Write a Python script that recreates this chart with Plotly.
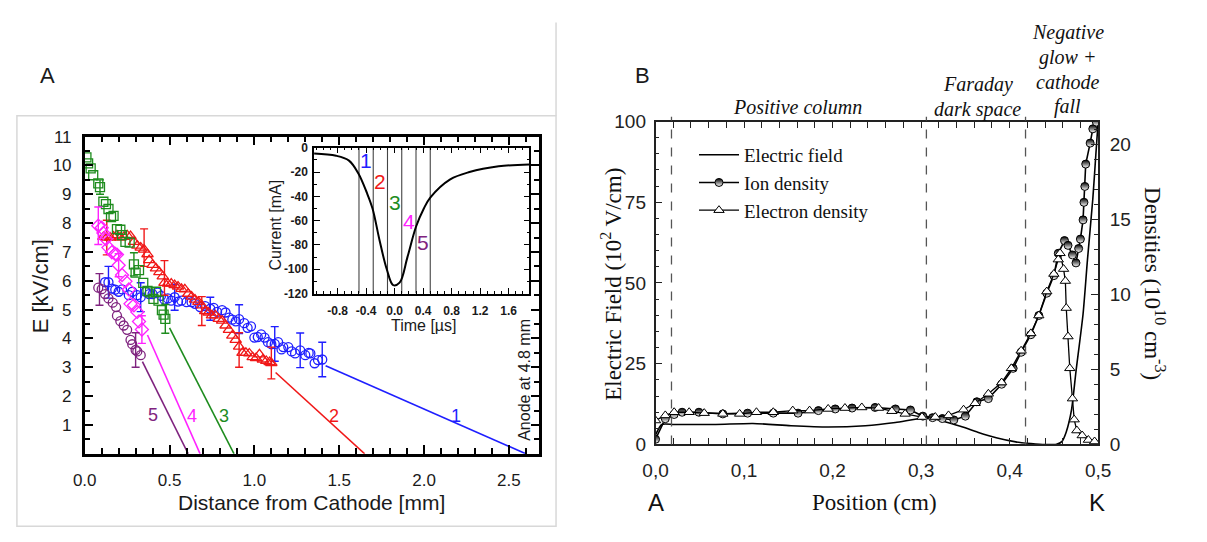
import plotly.graph_objects as go

W, H = 1207, 542
def px(x):
    return x / W
def py(y):
    return 1 - y / H

# ---------------- Panel A : E-field profiles ----------------
blue_x = [0.12, 0.14, 0.16, 0.18, 0.20, 0.22, 0.26, 0.28, 0.31, 0.33, 0.36, 0.38, 0.40, 0.43, 0.45,
          0.47, 0.49, 0.51, 0.53, 0.55, 0.57, 0.60, 0.63, 0.65, 0.68, 0.71, 0.74, 0.76, 0.78, 0.81,
          0.83, 0.85, 0.87, 0.89, 0.91, 0.94, 0.96, 0.98, 1.00, 1.02, 1.04, 1.06, 1.08, 1.10, 1.12,
          1.14, 1.16, 1.17, 1.20, 1.22, 1.24, 1.27, 1.30, 1.32, 1.33, 1.355, 1.375, 1.40]
blue_y = [5.95, 5.95, 5.73, 5.69, 5.62, 5.70, 5.50, 5.62, 5.50, 5.43, 5.62, 5.54, 5.54, 5.59, 5.48,
          5.35, 5.39, 5.31, 5.43, 5.28, 5.31, 5.26, 5.26, 5.20, 5.09, 5.12, 5.03, 5.06, 4.92, 4.98,
          4.90, 4.72, 4.65, 4.59, 4.67, 4.53, 4.37, 4.42, 4.03, 4.05, 4.14, 4.03, 3.87, 3.80, 3.81,
          3.87, 3.62, 3.70, 3.70, 3.55, 3.48, 3.59, 3.42, 3.50, 3.48, 3.14, 3.25, 3.27]
blue_err_x = [0.14, 0.33, 0.53, 0.74, 0.91, 1.12, 1.27, 1.40]
blue_err_y = [5.95, 5.43, 5.43, 5.03, 4.67, 3.81, 3.59, 3.27]
blue_err = [0.55, 0.5, 0.45, 0.4, 0.5, 0.6, 0.6, 0.6]

red_x = [0.11, 0.13, 0.15, 0.17, 0.19, 0.21, 0.23, 0.25, 0.27, 0.29, 0.31, 0.33, 0.35, 0.37, 0.38,
         0.40, 0.42, 0.44, 0.46, 0.47, 0.49, 0.51, 0.53, 0.55, 0.57, 0.59, 0.61, 0.63, 0.65, 0.67,
         0.69, 0.71, 0.73, 0.75, 0.77, 0.79, 0.81, 0.83, 0.85, 0.87, 0.89, 0.91, 0.93, 0.95, 0.97,
         0.99, 1.01, 1.03, 1.05, 1.07, 1.09, 1.10]
red_y = [7.52, 7.50, 7.50, 7.53, 7.58, 7.50, 7.52, 7.58, 7.55, 7.35, 7.22, 7.15, 7.08, 6.92, 6.72,
         6.55, 6.43, 6.30, 6.15, 5.93, 5.90, 5.90, 5.85, 5.80, 5.72, 5.70, 5.55, 5.45, 5.35, 5.27,
         5.15, 4.95, 4.90, 4.80, 4.80, 4.68, 4.62, 4.45, 4.30, 4.10, 3.95, 3.72, 3.50, 3.50, 3.48,
         3.35, 3.32, 3.45, 3.27, 3.22, 3.18, 3.15]
red_err_x = [0.13, 0.35, 0.47, 0.69, 0.91, 1.10]
red_err_y = [7.50, 7.15, 6.10, 4.95, 3.60, 3.15]
red_err = [0.6, 0.65, 0.6, 0.5, 0.6, 0.55]

green_x = [0.01, 0.02, 0.035, 0.05, 0.08, 0.09, 0.11, 0.125, 0.14, 0.155, 0.17, 0.19, 0.21, 0.22,
           0.24, 0.265, 0.29, 0.30, 0.32, 0.345, 0.37, 0.385, 0.405, 0.42, 0.435, 0.455, 0.465, 0.475]
green_y = [10.28, 10.07, 9.90, 9.66, 9.38, 9.25, 8.74, 8.66, 8.49, 8.21, 8.25, 7.79, 7.77, 7.58,
           7.35, 7.32, 6.57, 6.28, 6.37, 5.93, 5.65, 5.60, 5.37, 5.62, 5.31, 4.98, 4.83, 4.68]
green_err_x = [0.09, 0.29, 0.475]
green_err_y = [9.25, 6.57, 4.68]
green_err = [0.25, 0.4, 0.5]

mag_x = [0.08, 0.10, 0.11, 0.125, 0.14, 0.16, 0.18, 0.19, 0.20, 0.22, 0.24, 0.26, 0.27, 0.29,
         0.31, 0.32, 0.337]
mag_y = [7.91, 7.84, 7.66, 7.45, 7.15, 6.99, 6.93, 6.91, 6.54, 6.20, 5.98, 5.70, 5.20, 5.15,
         4.92, 4.59, 4.31]
mag_err_x = [0.08, 0.20, 0.337]
mag_err_y = [7.91, 6.54, 4.31]
mag_err = [0.65, 0.4, 0.48]

pur_x = [0.08, 0.10, 0.12, 0.14, 0.165, 0.185, 0.19, 0.21, 0.23, 0.25, 0.27, 0.28, 0.30, 0.31, 0.33]
pur_y = [5.76, 5.71, 5.54, 5.39, 5.24, 5.09, 4.79, 4.60, 4.45, 4.30, 3.95, 3.80, 3.60, 3.55, 3.42]
pur_err_x = [0.087, 0.30]
pur_err_y = [5.70, 3.60]
pur_err = [0.55, 0.6]

# linear extrapolations to zero field
fit1_x, fit1_y = [1.42, 2.60], [3.05, 0.0]
fit2_x, fit2_y = [1.125, 1.65], [2.82, 0.0]
fit3_x, fit3_y = [0.50, 0.88], [4.37, 0.0]
fit4_x, fit4_y = [0.37, 0.68], [4.12, 0.0]
fit5_x, fit5_y = [0.34, 0.61], [3.20, 0.0]

# inset current pulse
cur_t = [-1.13, -0.82, -0.64, -0.51, -0.39, -0.31, -0.21, -0.11, -0.02, 0.07, 0.18, 0.30, 0.41,
         0.50, 0.78, 1.05, 1.46, 1.89]
cur_i = [-4.7, -6.6, -10.6, -21, -37, -50, -76.5, -100, -113, -111, -90, -65, -50, -41, -26,
         -20, -15.3, -13.7]
sample_t = [-0.5, -0.3, -0.1, 0.1, 0.3, 0.5]

# ---------------- Panel B : glow discharge ----------------
ef_x = [0.0, 0.007, 0.021, 0.068, 0.11, 0.153, 0.195, 0.237, 0.271, 0.301, 0.314, 0.33, 0.347,
        0.364, 0.386, 0.407, 0.424, 0.44, 0.453, 0.459, 0.464, 0.47, 0.475, 0.483, 0.488,
        0.494, 0.4975, 0.5]
ef_y = [3.0, 6.2, 6.2, 6.2, 6.5, 5.8, 5.4, 5.8, 6.8, 8.1, 8.0, 6.8, 5.4, 3.8, 2.0, 0.8, 0.3, 0.0,
        0.1, 0.9, 3.9, 10.8, 22.6, 40.4, 57.3, 76.0, 90.0, 99.8]

ion_x = [0.0, 0.011, 0.021, 0.03, 0.049, 0.076, 0.104, 0.133, 0.161, 0.184, 0.203, 0.222, 0.248,
         0.271, 0.288, 0.302, 0.313, 0.324, 0.337, 0.35, 0.363, 0.376, 0.391, 0.404, 0.413,
         0.424, 0.433, 0.442, 0.45, 0.455, 0.462, 0.466, 0.471, 0.475, 0.478, 0.48, 0.483,
         0.484, 0.485, 0.486, 0.491, 0.494, 0.498]
ion_y = [0.35, 1.72, 2.0, 2.15, 2.15, 2.04, 2.09, 2.09, 2.09, 2.26, 2.37, 2.43, 2.47, 2.37, 2.3,
         1.89, 1.79, 1.73, 1.64, 1.89, 2.85, 3.06, 4.02, 5.08, 6.15, 7.32, 8.6, 10.09, 11.26,
         12.75, 13.6, 13.28, 12.64, 12.11, 13.07, 13.7, 14.98, 16.15, 17.21, 18.7, 20.1, 21.05, 21.5]

ele_x = [0.0, 0.011, 0.021, 0.038, 0.055, 0.076, 0.095, 0.114, 0.133, 0.155, 0.174, 0.195, 0.214,
         0.233, 0.252, 0.267, 0.282, 0.301, 0.316, 0.331, 0.348, 0.361, 0.376, 0.391, 0.402,
         0.413, 0.424, 0.433, 0.442, 0.45, 0.455, 0.457, 0.461, 0.463, 0.464, 0.466, 0.468,
         0.471, 0.473, 0.476, 0.482, 0.489, 0.496]
ele_y = [1.6, 1.94, 2.15, 2.15, 2.09, 2.04, 2.04, 2.15, 2.15, 2.26, 2.26, 2.37, 2.43, 2.47, 2.43,
         2.22, 2.04, 1.83, 1.83, 1.94, 2.32, 2.75, 3.38, 4.13, 5.08, 6.25, 7.41, 8.6, 10.2,
         11.37, 12.33, 12.75, 11.7, 10.9, 9.1, 7.2, 5.08, 3.06, 1.66, 0.93, 0.6, 0.3, 0.2]

region_bounds = [0.018, 0.306, 0.418]

SANS = "Liberation Sans, Arial, Helvetica, sans-serif"
SERIF = "Liberation Serif, Times New Roman, serif"

fig = go.Figure()

# ---- panel A traces ----
series = [
    ("blue", "#1f1fff", blue_x, blue_y, blue_err_x, blue_err_y, blue_err, "circle-open", 9),
    ("red", "#f01818", red_x, red_y, red_err_x, red_err_y, red_err, "triangle-up-open", 10),
    ("green", "#1e8c1e", green_x, green_y, green_err_x, green_err_y, green_err, "square-open", 9),
    ("magenta", "#ff22ff", mag_x, mag_y, mag_err_x, mag_err_y, mag_err, "diamond-open", 10),
    ("purple", "#7f237f", pur_x, pur_y, pur_err_x, pur_err_y, pur_err, "circle-open", 9),
]
for name, col, xs, ys, ex, ey, ee, sym, sz in series:
    fig.add_trace(go.Scatter(x=ex, y=ey, mode="markers", xaxis="x", yaxis="y",
                             marker=dict(size=1, color="rgba(0,0,0,0)"),
                             error_y=dict(type="data", array=ee, color=col, thickness=1.4, width=4),
                             showlegend=False, hoverinfo="skip"))
    fig.add_trace(go.Scatter(x=xs, y=ys, mode="markers", xaxis="x", yaxis="y",
                             marker=dict(symbol=sym, size=sz, color=col, line=dict(width=1.3, color=col)),
                             showlegend=False, name=name))

fits = [(fit1_x, fit1_y, "#1f1fff"), (fit2_x, fit2_y, "#f01818"), (fit3_x, fit3_y, "#1e8c1e"),
        (fit4_x, fit4_y, "#ff22ff"), (fit5_x, fit5_y, "#7f237f")]
for fx, fy, col in fits:
    fig.add_trace(go.Scatter(x=fx, y=fy, mode="lines", xaxis="x", yaxis="y",
                             line=dict(color=col, width=1.6), showlegend=False))

# ---- inset traces ----
for t in sample_t:
    fig.add_trace(go.Scatter(x=[t, t], y=[-120, 0], mode="lines", xaxis="x2", yaxis="y2",
                             line=dict(color="#444", width=1.1), showlegend=False))
fig.add_trace(go.Scatter(x=cur_t, y=cur_i, mode="lines", xaxis="x2", yaxis="y2",
                         line=dict(color="black", width=2, shape="spline", smoothing=1.0),
                         showlegend=False))

# ---- panel B traces ----
fig.add_trace(go.Scatter(x=ef_x, y=ef_y, mode="lines", xaxis="x3", yaxis="y3",
                         line=dict(color="black", width=1.6, shape="spline", smoothing=0.6),
                         name="Electric field"))
fig.add_trace(go.Scatter(x=ion_x, y=ion_y, mode="lines+markers", xaxis="x3", yaxis="y4",
                         line=dict(color="black", width=1.6),
                         marker=dict(symbol="circle", size=8, color="black",
                                     gradient=dict(type="vertical", color="white"),
                                     line=dict(color="black", width=1)),
                         name="Ion density"))
fig.add_trace(go.Scatter(x=ele_x, y=ele_y, mode="lines+markers", xaxis="x3", yaxis="y4",
                         line=dict(color="black", width=1.3),
                         marker=dict(symbol="triangle-up", size=9, color="white",
                                     line=dict(color="black", width=1)),
                         name="Electron density"))

# ---- axes ----
tickA = dict(family=SANS, size=17, color="#1a1a1a")
common_A = dict(showline=True, linecolor="black", linewidth=2.5, mirror="allticks", ticks="inside",
                tickcolor="black", tickwidth=1.6, ticklen=9, showgrid=False, zeroline=False,
                tickfont=tickA)
fig.update_layout(
    xaxis=dict(domain=[px(73.3), px(538)], range=[0, 2.68], anchor="y", ticklabelstandoff=9,
               tickvals=[0, 0.5, 1.0, 1.5, 2.0, 2.5],
               ticktext=["0.0", "0.5", "1.0", "1.5", "2.0", "2.5"],
               minor=dict(dtick=0.1, tick0=0, ticks="inside", ticklen=6, tickwidth=1.6,
                          tickcolor="black"), **common_A),
    yaxis=dict(domain=[py(461.7), py(131.7)], range=[0, 11], anchor="x", ticklabelstandoff=7,
               tickvals=list(range(1, 12)), ticktext=[str(v) for v in range(1, 12)],
               minor=dict(dtick=0.5, tick0=0, ticks="inside", ticklen=6, tickwidth=1.6,
                          tickcolor="black"), **common_A),
)

tickIn = dict(family=SANS, size=12, color="#1a1a1a", weight="bold")
common_in = dict(showline=True, linecolor="black", linewidth=1.5, mirror="allticks", ticks="inside",
                 tickcolor="black", tickwidth=1.2, ticklen=6, showgrid=False, zeroline=False,
                 tickfont=tickIn)
fig.update_layout(
    xaxis2=dict(domain=[px(307.7), px(527.7)], range=[-1.13, 1.89], anchor="y2", ticklabelstandoff=5,
                tickvals=[-0.8, -0.4, 0.0, 0.4, 0.8, 1.2, 1.6],
                ticktext=["-0.8", "-0.4", "0.0", "0.4", "0.8", "1.2", "1.6"],
                minor=dict(dtick=0.1, tick0=0, ticks="inside", ticklen=3, tickwidth=1,
                           tickcolor="black"), **common_in),
    yaxis2=dict(domain=[py(295), py(143.3)], range=[-120, 0], anchor="x2", ticklabelstandoff=2,
                tickvals=[0, -20, -40, -60, -80, -100, -120],
                ticktext=["0", "-20", "-40", "-60", "-80", "-100", "-120"],
                minor=dict(dtick=10, tick0=0, ticks="inside", ticklen=3, tickwidth=1,
                           tickcolor="black"), **common_in),
)

tickB = dict(family=SANS, size=19, color="#222")
common_B = dict(showline=True, linecolor="#222", linewidth=1.6, ticks="inside",
                tickcolor="#222", tickwidth=1.3, ticklen=7, showgrid=False, zeroline=False,
                tickfont=tickB)
fig.update_layout(
    xaxis3=dict(domain=[px(656.7), px(1109)], range=[0, 0.5], anchor="y3", mirror="allticks",
                ticklabelstandoff=8,
                tickvals=[0, 0.1, 0.2, 0.3, 0.4, 0.5],
                ticktext=["0,0", "0,1", "0,2", "0,3", "0,4", "0,5"],
                minor=dict(dtick=0.02, tick0=0, ticks="inside", ticklen=4, tickwidth=1.2,
                           tickcolor="#222"), **common_B),
    yaxis3=dict(domain=[py(452), py(116)], range=[0, 100], anchor="x3", ticklabelstandoff=4,
                tickvals=[0, 25, 50, 75, 100],
                minor=dict(dtick=5, tick0=0, ticks="inside", ticklen=4, tickwidth=1.2,
                           tickcolor="#222"), **common_B),
    yaxis4=dict(overlaying="y3", side="right", range=[0, 21.54], anchor="x3", ticklabelstandoff=6,
                tickvals=[0, 5, 10, 15, 20],
                minor=dict(dtick=1, tick0=0, ticks="inside", ticklen=4, tickwidth=1.2,
                           tickcolor="#222"), **common_B),
)

# ---- shapes ----
shapes = [
    dict(type="line", xref="paper", yref="paper", x0=px(555), x1=px(555), y0=py(13), y1=py(110),
         line=dict(color="#d8d8d8", width=1.5)),
    dict(type="rect", xref="paper", yref="paper", x0=px(4), x1=px(555), y0=py(537), y1=py(110),
         line=dict(color="#d8d8d8", width=1.5)),
]
for xb in region_bounds:
    shapes.append(dict(type="line", xref="x3", yref="y3 domain", x0=xb, x1=xb, y0=0, y1=1.015,
                       line=dict(color="#555", width=1.3, dash="dash")))
fig.update_layout(shapes=shapes)

# ---- annotations ----
ann = []
def A(text, x, y, size, family=SANS, color="#1a1a1a", xref="paper", yref="paper", angle=0, **kw):
    ann.append(dict(text=text, x=x, y=y, xref=xref, yref=yref, showarrow=False, textangle=angle,
                    font=dict(family=family, size=size, color=color), xanchor="center",
                    yanchor="middle", **kw))

A("A", px(35), py(68), 22)
A("B", px(643), py(68), 22)
A("E [kV/cm]", px(28), py(287), 22, angle=-90)
A("Distance from Cathode [mm]", px(305), py(512), 21)
A("Anode at 4.8 mm", px(522), py(385), 16, angle=-90)
A("Current [mA]", px(268), py(224), 16, angle=-90)
A("Time [µs]", px(420), py(328), 16)

fit_labels = [("1", 2.19, 1.3, "#1f1fff"), ("2", 1.47, 1.3, "#f01818"), ("3", 0.82, 1.3, "#1e8c1e"),
              ("4", 0.63, 1.3, "#ff22ff"), ("5", 0.40, 1.35, "#7f237f")]
for t, xx, yy, col in fit_labels:
    A(t, xx, yy, 18, color=col, xref="x", yref="y")

inset_labels = [("1", -0.4, -10.6, "#1f1fff"), ("2", -0.2, -27.7, "#f01818"),
                ("3", 0.0, -44.9, "#1e8c1e"), ("4", 0.2, -60.7, "#ff22ff"),
                ("5", 0.4, -78.3, "#7f237f")]
for t, xx, yy, col in inset_labels:
    A(t, xx, yy, 21, color=col, xref="x2", yref="y2")

A("Electric Field (10<sup>2</sup> V/cm)", px(612), py(285), 23, family=SERIF, color="#111", angle=-90)
A("Densities (10<sup>10</sup> cm<sup>-3</sup>)", px(1166), py(285), 23, family=SERIF, color="#111", angle=90)
A("Position (cm)", px(880), py(512), 23, family=SERIF, color="#111")
A("A", px(657), py(512), 24, color="#111")
A("K", px(1108), py(512), 24, color="#111")
A("<i>Positive column</i>", px(802), py(101), 20, family=SERIF, color="#111")
A("<i>Faraday</i>", px(986), py(77), 20, family=SERIF, color="#111")
A("<i>dark space</i>", px(986), py(103), 20, family=SERIF, color="#111")
A("<i>Negative</i>", px(1078), py(23), 20, family=SERIF, color="#111")
A("<i>glow +</i>", px(1078), py(49), 20, family=SERIF, color="#111")
A("<i>cathode</i>", px(1078), py(75), 20, family=SERIF, color="#111")
A("<i>fall</i>", px(1078), py(100), 20, family=SERIF, color="#111")
fig.update_layout(annotations=ann)

fig.update_layout(
    width=W, height=H, margin=dict(l=0, r=0, t=0, b=0),
    paper_bgcolor="white", plot_bgcolor="white",
    showlegend=True,
    legend=dict(x=px(696), y=py(131), xanchor="left", yanchor="top",
                font=dict(family=SERIF, size=19, color="#111"), bgcolor="rgba(0,0,0,0)",
                itemwidth=40, tracegroupgap=0),
)

fig.write_html("out.html")
